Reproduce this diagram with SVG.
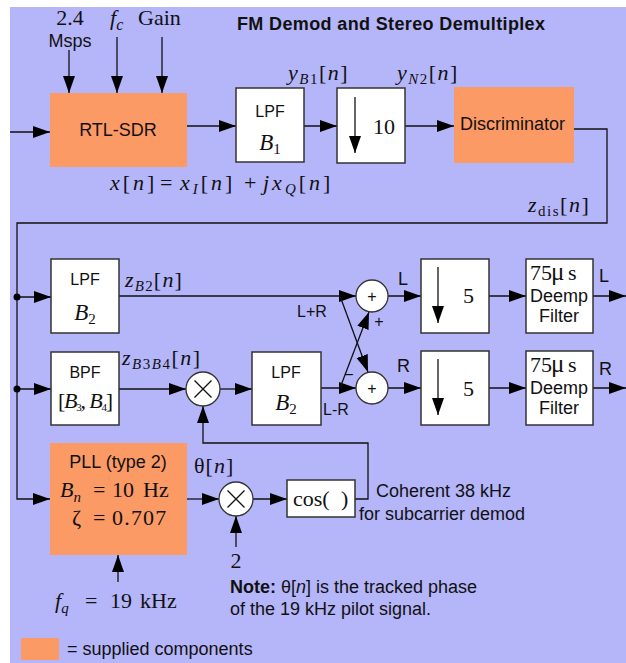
<svg xmlns="http://www.w3.org/2000/svg" width="626" height="663" viewBox="0 0 626 663">
<defs>
<marker id="ah" markerUnits="userSpaceOnUse" markerWidth="18" markerHeight="13" refX="17" refY="6" orient="auto">
<path d="M0,0 L17,6 L0,12 z" fill="#000"/>
</marker>
<style>
.bg{fill:#b5b5fa}
.sup{fill:#fc9a66}
.blk{fill:#fff;stroke:#333;stroke-width:1.5}
.ln{fill:none;stroke:#111;stroke-width:1.3}
.ar{fill:none;stroke:#111;stroke-width:1.3;marker-end:url(#ah)}
.circ{fill:#fff;stroke:#333;stroke-width:1.3}
.s{font-family:"Liberation Sans",Arial,sans-serif;font-size:18px;fill:#111}
.s16{font-family:"Liberation Sans",Arial,sans-serif;font-size:16px;fill:#111}
.m{font-family:"Liberation Serif","Times New Roman",serif;font-size:22px;fill:#111}
.i{font-style:italic}
.sb{font-size:15px}
</style>
</defs>
<rect class="bg" x="10" y="7" width="616" height="656"/>
<text class="s" x="237" y="30" font-weight="bold" textLength="308">FM Demod and Stereo Demultiplex</text>

<g id="connectors">
<path class="ar" d="M10,132 H50"/>
<path class="ar" d="M69,50 V93"/>
<path class="ar" d="M117,37 V93"/>
<path class="ar" d="M162,37 V93"/>
<path class="ar" d="M187,126 H236"/>
<path class="ar" d="M304,126 H337"/>
<path class="ar" d="M405,126 H454"/>
<path class="ar" d="M568,129 H607 V223 H17 V499 H50"/>
<path class="ar" d="M17,297 H51"/>
<path class="ar" d="M17,389 H51"/>
<circle cx="17" cy="297" r="3.5" fill="#000"/>
<circle cx="17" cy="389" r="3.5" fill="#000"/>
<path class="ar" d="M119,296 H356"/>
<path class="ar" d="M119,389 H186"/>
<path class="ar" d="M220,389 H252"/>
<path class="ar" d="M321,388 H356"/>
<path class="ar" d="M340,296 L368,372"/>
<path class="ar" d="M340,388 L369,312"/>
<path class="ar" d="M388,296 H421"/>
<path class="ar" d="M388,388 H421"/>
<path class="ar" d="M489,296 H526"/>
<path class="ar" d="M489,388 H526"/>
<path class="ar" d="M593,296 H626"/>
<path class="ar" d="M593,388 H626"/>
<path class="ar" d="M187,499 H219"/>
<path class="ar" d="M253,499 H287"/>
<path class="ar" d="M355,499 H368 V443 H203 V406"/>
<path class="ar" d="M236,547 V516"/>
<path class="ar" d="M118,582 V555"/>
</g>

<text class="m" x="70" y="25" text-anchor="middle">2.4</text>
<text class="s" x="70" y="47" text-anchor="middle">Msps</text>
<text class="m" x="110" y="25"><tspan class="i">f</tspan><tspan class="i" font-size="16" dy="5">c</tspan></text>
<text class="m" x="138" y="25">Gain</text>

<g id="rtlsdr">
<rect class="sup" x="50" y="93" width="137" height="74"/>
<text class="s" x="118" y="136" text-anchor="middle">RTL-SDR</text>
</g>
<g id="lpf1">
<rect class="blk" x="236" y="88" width="68" height="74"/>
<text class="s16" x="270" y="117" text-anchor="middle">LPF</text>
<text class="m" x="270" y="150" text-anchor="middle"><tspan class="i" font-size="23">B</tspan><tspan class="sb" dy="4">1</tspan></text>
</g>
<g id="down10">
<rect class="blk" x="337" y="88" width="68" height="75"/>
<path class="ar" d="M355,97 V153"/>
<text class="m" x="373" y="134">10</text>
</g>
<g id="discriminator">
<rect class="sup" x="454" y="87" width="120" height="76"/>
<text class="s" x="460" y="130">Discriminator</text>
</g>

<text class="m" x="288" y="80" letter-spacing="1.5"><tspan class="i">y</tspan><tspan class="i sb" dy="4">B</tspan><tspan class="sb">1</tspan><tspan dy="-4">[</tspan><tspan class="i">n</tspan>]</text>
<text class="m" x="397" y="80" letter-spacing="1.5"><tspan class="i">y</tspan><tspan class="i sb" dy="4">N</tspan><tspan class="sb">2</tspan><tspan dy="-4">[</tspan><tspan class="i">n</tspan>]</text>
<text class="m" y="190" letter-spacing="3"><tspan x="110" class="i">x</tspan>[<tspan class="i">n</tspan>]<tspan x="160">=</tspan><tspan x="180" class="i">x</tspan><tspan class="i sb" dy="4">I</tspan><tspan dy="-4">[</tspan><tspan class="i">n</tspan>]<tspan x="244">+</tspan><tspan x="263" class="i">jx</tspan><tspan class="i sb" dy="4">Q</tspan><tspan dy="-4">[</tspan><tspan class="i">n</tspan>]</text>
<text class="m" x="528" y="212" letter-spacing="1.5"><tspan class="i">z</tspan><tspan class="sb" dy="4">dis</tspan><tspan dy="-4">[</tspan><tspan class="i">n</tspan>]</text>

<g id="lpf2a">
<rect class="blk" x="51" y="259" width="68" height="74"/>
<text class="s16" x="85" y="285" text-anchor="middle">LPF</text>
<text class="m" x="85" y="320" text-anchor="middle"><tspan class="i" font-size="23">B</tspan><tspan class="sb" dy="4">2</tspan></text>
</g>
<g id="bpf">
<rect class="blk" x="51" y="352" width="68" height="73"/>
<text class="s16" x="85" y="378" text-anchor="middle">BPF</text>
<text class="m" x="58" y="408" font-size="16" textLength="55">[<tspan class="i">B</tspan><tspan font-size="11" dy="3">3</tspan><tspan dy="-3">, </tspan><tspan class="i">B</tspan><tspan font-size="11" dy="3">4</tspan><tspan dy="-3">]</tspan></text>
</g>
<text class="m" x="125" y="287" letter-spacing="1.2"><tspan class="i">z</tspan><tspan class="i sb" dy="4">B</tspan><tspan class="sb">2</tspan><tspan dy="-4">[</tspan><tspan class="i">n</tspan>]</text>
<text class="m" x="122" y="365" letter-spacing="1.5"><tspan class="i">z</tspan><tspan class="i sb" dy="4">B</tspan><tspan class="sb">3</tspan><tspan class="i sb">B</tspan><tspan class="sb">4</tspan><tspan dy="-4">[</tspan><tspan class="i">n</tspan>]</text>

<g id="mult1">
<circle class="circ" cx="203" cy="389" r="17"/>
<path class="ln" d="M194.5,380.5 L211.5,397.5 M211.5,380.5 L194.5,397.5"/>
</g>
<g id="lpf2b">
<rect class="blk" x="252" y="352" width="69" height="73"/>
<text class="s16" x="286" y="378" text-anchor="middle">LPF</text>
<text class="m" x="286" y="410" text-anchor="middle"><tspan class="i" font-size="23">B</tspan><tspan class="sb" dy="4">2</tspan></text>
</g>
<text class="s16" x="297" y="317">L+R</text>
<text class="s16" x="323" y="415">L-R</text>

<g id="sumL">
<circle class="circ" cx="372" cy="296" r="16"/>
<text class="s16" x="372" y="302" text-anchor="middle">+</text>
</g>
<g id="sumR">
<circle class="circ" cx="372" cy="388" r="16"/>
<text class="s16" x="372" y="394" text-anchor="middle">+</text>
</g>
<text class="s16" x="379" y="327" text-anchor="middle">+</text>
<text class="s16" x="349" y="380" text-anchor="middle">−</text>
<text class="s" x="398" y="285">L</text>
<text class="s" x="397" y="372">R</text>

<g id="down5L">
<rect class="blk" x="421" y="259" width="68" height="74"/>
<path class="ar" d="M438,267 V323"/>
<text class="m" x="463" y="303">5</text>
</g>
<g id="down5R">
<rect class="blk" x="421" y="351" width="68" height="74"/>
<path class="ar" d="M438,359 V415"/>
<text class="m" x="463" y="396">5</text>
</g>
<g id="deempL">
<rect class="blk" x="526" y="259" width="67" height="74"/>
<text class="m" y="280"><tspan x="530">75</tspan><tspan x="551" font-size="25">μ</tspan><tspan x="568">s</tspan></text>
<text class="s" x="559" y="302" text-anchor="middle">Deemp</text>
<text class="s" x="559" y="322" text-anchor="middle">Filter</text>
</g>
<g id="deempR">
<rect class="blk" x="526" y="351" width="67" height="74"/>
<text class="m" y="372"><tspan x="530">75</tspan><tspan x="551" font-size="25">μ</tspan><tspan x="568">s</tspan></text>
<text class="s" x="559" y="394" text-anchor="middle">Deemp</text>
<text class="s" x="559" y="414" text-anchor="middle">Filter</text>
</g>
<text class="s" x="599" y="282">L</text>
<text class="s" x="599" y="375">R</text>

<g id="pll">
<rect class="sup" x="50" y="443" width="137" height="112"/>
<text class="s" x="118" y="468" text-anchor="middle">PLL (type 2)</text>
<text class="m" y="497"><tspan x="60" class="i">B</tspan><tspan class="i sb" dy="5">n</tspan><tspan x="93" dy="-5">=</tspan><tspan x="112">10</tspan><tspan x="143">Hz</tspan></text>
<text class="m" y="525"><tspan x="72">ζ</tspan><tspan x="93">=</tspan><tspan x="112" letter-spacing="1.2">0.707</tspan></text>
</g>
<text class="m" x="194" y="473" letter-spacing="1">θ[<tspan class="i">n</tspan>]</text>
<g id="mult2">
<circle class="circ" cx="236" cy="499" r="17"/>
<path class="ln" d="M227.5,490.5 L244.5,507.5 M244.5,490.5 L227.5,507.5"/>
</g>
<text class="m" x="236" y="568" text-anchor="middle">2</text>
<g id="cos">
<rect class="blk" x="287" y="480" width="68" height="37"/>
<text class="m" y="506"><tspan x="293">cos(</tspan><tspan x="341">)</tspan></text>
</g>
<text class="s" x="376" y="497">Coherent 38 kHz</text>
<text class="s" x="359" y="520">for subcarrier demod</text>
<text class="s" x="230" y="593"><tspan font-weight="bold">Note:</tspan> θ[<tspan font-style="italic">n</tspan>] is the tracked phase</text>
<text class="s" x="230" y="615">of the 19 kHz pilot signal.</text>
<text class="m" y="608"><tspan x="55" class="i">f</tspan><tspan class="i sb" dy="5">q</tspan><tspan x="85" dy="-5">=</tspan><tspan x="110">19</tspan><tspan x="140">kHz</tspan></text>

<g id="legend">
<rect class="sup" x="21" y="638" width="38" height="22"/>
<text class="s" x="67" y="655">= supplied components</text>
</g>
</svg>
